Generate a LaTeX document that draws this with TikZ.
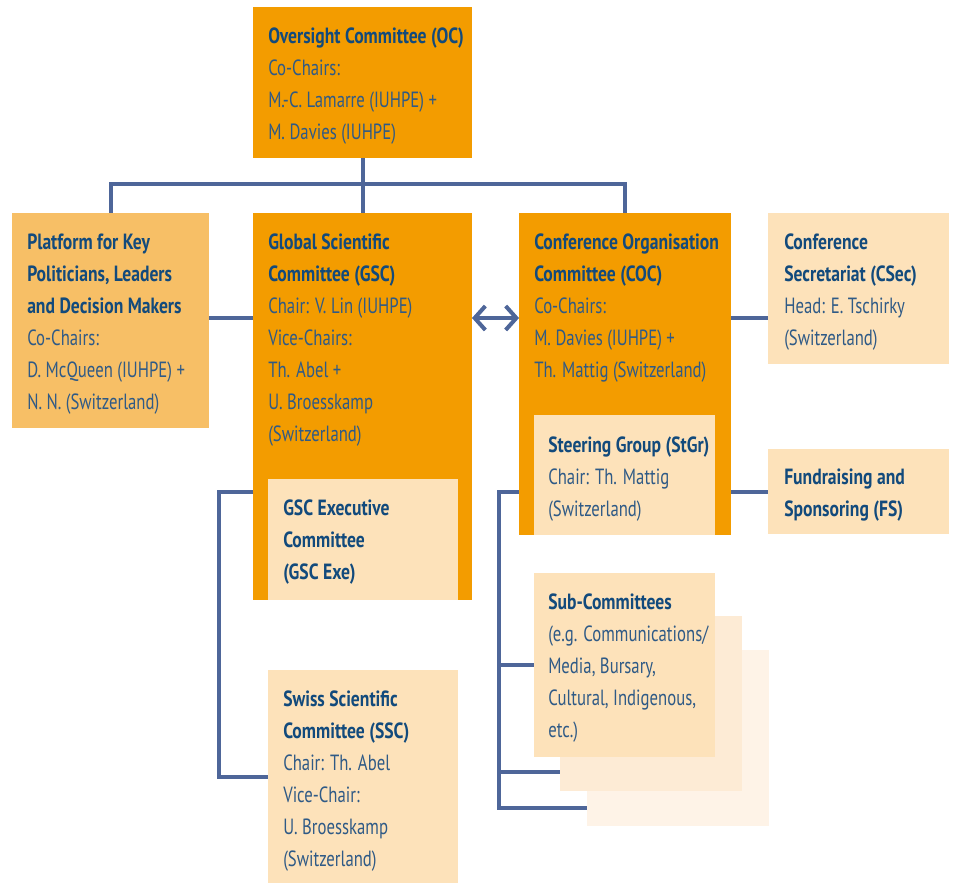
\documentclass[tikz,border=0pt]{standalone}
\usepackage{fontspec}
\setmainfont{PT Sans}[FakeStretch=0.76]
\newfontfamily\ttlfam{PT Sans}[FakeStretch=0.80]
\usetikzlibrary{fit,calc,arrows.meta,backgrounds}
\definecolor{orng}{HTML}{F39C00}
\definecolor{lorng}{HTML}{F7BF66}
\definecolor{pale}{HTML}{FDE2BA}
\definecolor{pale2}{HTML}{FDEBD5}
\definecolor{pale3}{HTML}{FEF3E7}
\definecolor{lnc}{HTML}{4E6699}
\definecolor{ttl}{HTML}{124A7C}
\definecolor{txc}{HTML}{2F5A86}
\newcommand{\ttlx}[1]{{\ttlfam\bfseries\color{ttl}#1}}
\begin{document}
\begin{tikzpicture}[x=0.75pt,y=-0.75pt,
  box/.style={inner sep=0pt, outer sep=0pt, draw=none},
  lbl/.style={anchor=north west, inner sep=0pt, align=left, text=txc,
    font=\fontsize{16.5}{24}\selectfont},
  conn/.style={draw=lnc, line width=3pt}]
\useasboundingbox (0,0) rectangle (957,883);

% boxes
\node[box, fill=orng, fit={(253,7) (472,158)}] (oc) {};
\node[box, fill=lorng, fit={(12,213) (209,428)}] (plat) {};
\node[box, fill=orng, fit={(253,213) (472,600)}] (gsc) {};
\node[box, fill=orng, fit={(519,213) (731,535)}] (coc) {};
\node[box, fill=pale, fit={(768,213) (949,364)}] (csec) {};
\node[box, fill=pale, fit={(768,449) (949,534)}] (fs) {};
\node[box, fill=pale, fit={(534,415) (715,535)}] (stgr) {};
\node[box, fill=pale, fit={(268,479) (458,600)}] (exe) {};
\node[box, fill=pale, fit={(268,670) (458,883)}] (ssc) {};
\node[box, fill=pale3, fit={(587,650) (769,826)}] (sub3) {};
\node[box, fill=pale2, fit={(560,616) (742,791)}] (sub2) {};
\node[box, fill=pale, fit={(534,573) (715,757)}] (sub1) {};

% texts
\node[lbl] (toc) at (268,28) {\ttlx{Oversight Committee (OC)}\\Co-Chairs:\\M.-C. Lamarre (IUHPE) +\\M. Davies (IUHPE)};
\node[lbl] (tplat) at (27,234) {\ttlx{Platform for Key}\\\ttlx{Politicians, Leaders}\\\ttlx{and Decision Makers}\\Co-Chairs:\\D. McQueen (IUHPE) +\\N. N. (Switzerland)};
\node[lbl] (tgsc) at (268,234) {\ttlx{Global Scientific}\\\ttlx{Committee (GSC)}\\Chair: V. Lin (IUHPE)\\Vice-Chairs:\\Th. Abel +\\U. Broesskamp\\(Switzerland)};
\node[lbl] (tcoc) at (534,234) {\ttlx{Conference Organisation}\\\ttlx{Committee (COC)}\\Co-Chairs:\\M. Davies (IUHPE) +\\Th. Mattig (Switzerland)};
\node[lbl] (tcsec) at (784,234) {\ttlx{Conference}\\\ttlx{Secretariat (CSec)}\\Head: E. Tschirky\\(Switzerland)};
\node[lbl] (tstgr) at (548,437) {\ttlx{Steering Group (StGr)}\\Chair: Th. Mattig\\(Switzerland)};
\node[lbl] (tfs) at (784,469) {\ttlx{Fundraising and}\\\ttlx{Sponsoring (FS)}};
\node[lbl] (texe) at (283,500) {\ttlx{GSC Executive}\\\ttlx{Committee}\\\ttlx{(GSC Exe)}};
\node[lbl] (tssc) at (283,691) {\ttlx{Swiss Scientific}\\\ttlx{Committee (SSC)}\\Chair: Th. Abel\\Vice-Chair:\\U. Broesskamp\\(Switzerland)};
\node[lbl] (tsub) at (548,594) {\ttlx{Sub-Committees}\\(e.g. Communications/\\Media, Bursary,\\Cultural, Indigenous,\\etc.)};

\coordinate (midrow) at (0,318);

% connectors behind boxes
\begin{scope}[on background layer]
\draw[conn] (oc.south) -- (gsc.north);
\draw[conn] (plat.north) -- ++(0,-29) -| (coc.north);
\draw[conn] (plat.east |- midrow) -- (gsc.west |- midrow);
\draw[conn] (coc.east |- midrow) -- (csec.west |- midrow);
\draw[conn] (coc.east |- fs.west) -- (fs.west);
\draw[conn] (gsc.west |- fs.west) -- ++(-34,0) |- (ssc.west);
\draw[conn] (coc.west |- fs.west) -- ++(-20,0) coordinate (tr) |- ($(sub3.south west)+(0,-18)$);
\draw[conn] (tr |- sub1.west) -- (sub1.west);
\draw[conn] (tr |- 0,772) -- (sub2.west |- 0,772);
\end{scope}
\draw[conn, {Straight Barb[length=8pt,width=18pt]}-{Straight Barb[length=8pt,width=18pt]}]
  (gsc.east |- midrow) -- (coc.west |- midrow);
\end{tikzpicture}
\end{document}
